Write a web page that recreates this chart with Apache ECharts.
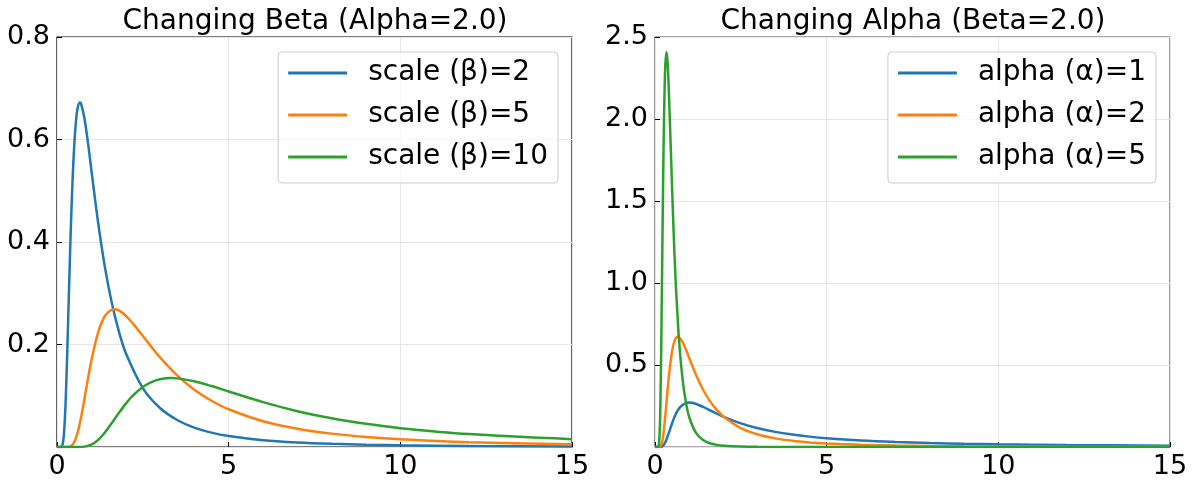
<!DOCTYPE html>
<html>
<head>
<meta charset="utf-8">
<script src="https://cdn.jsdelivr.net/npm/echarts@6/dist/echarts.min.js"></script>
<style>
  html, body { margin: 0; padding: 0; background: #fff; }
  #chart { width: 1195px; height: 482px; }
</style>
</head>
<body>
<div id="chart"></div>
<script>
// Inverse-gamma densities, sampled along x.
// Left panel: alpha = 2, scale beta = 2, 5, 10
var xBeta2 = [0, 0.1, 0.15, 0.2, 0.25, 0.3, 0.35, 0.4, 0.45, 0.5, 0.55, 0.6, 0.667, 0.7, 0.8, 0.9, 1.0, 1.2, 1.4, 1.6, 1.8, 2.0, 2.5, 3, 3.5, 4, 4.5, 5, 6, 7, 8, 9, 10, 12, 15];
var yBeta2 = [0, 0, 0.0019, 0.0227, 0.0859, 0.1886, 0.308, 0.421, 0.515, 0.586, 0.634, 0.661, 0.672, 0.670, 0.641, 0.595, 0.541, 0.437, 0.349, 0.280, 0.226, 0.184, 0.115, 0.0761, 0.0527, 0.0379, 0.0281, 0.0215, 0.0133, 0.0088, 0.0061, 0.0044, 0.0033, 0.0020, 0.0010];

var xBeta5 = [0, 0.3, 0.4, 0.5, 0.6, 0.7, 0.8, 0.9, 1.0, 1.2, 1.4, 1.6, 1.667, 1.8, 2.0, 2.25, 2.5, 2.75, 3, 3.5, 4, 4.5, 5, 6, 7, 8, 9, 10, 12, 15];
var yBeta5 = [0, 0, 0.0015, 0.0091, 0.0278, 0.0576, 0.0942, 0.1324, 0.1684, 0.2243, 0.2561, 0.2682, 0.2689, 0.2666, 0.2565, 0.2379, 0.2165, 0.1953, 0.1749, 0.1398, 0.1119, 0.0903, 0.0736, 0.0503, 0.0357, 0.0261, 0.0197, 0.0152, 0.0095, 0.0053];

var xBeta10 = [0, 0.6, 0.8, 1.0, 1.2, 1.4, 1.6, 1.8, 2.0, 2.2, 2.5, 2.75, 3, 3.333, 3.5, 4, 4.5, 5, 6, 7, 8, 9, 10, 12, 15];
var yBeta10 = [0, 0, 0.0007, 0.0045, 0.0139, 0.0288, 0.0471, 0.0662, 0.0842, 0.0997, 0.1172, 0.1267, 0.1321, 0.1344, 0.1339, 0.1283, 0.1189, 0.1083, 0.0875, 0.0699, 0.0560, 0.0452, 0.0368, 0.0252, 0.0152];

// Right panel: beta = 2, alpha = 1, 2, 5 (alpha = 2 is the same curve as beta = 2 above)
var xAlpha1 = [0, 0.1, 0.2, 0.3, 0.4, 0.5, 0.6, 0.7, 0.8, 0.9, 1.0, 1.2, 1.4, 1.6, 1.8, 2.0, 2.5, 3, 3.5, 4, 4.5, 5, 6, 7, 8, 9, 10, 12, 15];
var yAlpha1 = [0, 0, 0.0023, 0.0283, 0.0842, 0.1465, 0.1982, 0.2344, 0.2565, 0.2677, 0.2707, 0.2623, 0.2446, 0.2238, 0.2032, 0.1839, 0.1438, 0.1141, 0.0922, 0.0758, 0.0633, 0.0536, 0.0398, 0.0307, 0.0243, 0.0198, 0.0164, 0.0118, 0.0078];

var xAlpha2 = xBeta2;
var yAlpha2 = yBeta2;

var xAlpha5 = [0, 0.08, 0.1, 0.12, 0.14, 0.16, 0.18, 0.2, 0.22, 0.24, 0.26, 0.28, 0.3, 0.333, 0.36, 0.38, 0.4, 0.45, 0.5, 0.55, 0.6, 0.7, 0.8, 0.9, 1.0, 1.2, 1.4, 1.6, 1.8, 2.0, 2.5, 3, 4, 5, 7, 10, 15];
var yAlpha5 = [0, 0.0001, 0.0028, 0.0258, 0.1103, 0.296, 0.586, 0.946, 1.325, 1.677, 1.968, 2.185, 2.328, 2.409, 2.364, 2.293, 2.193, 1.884, 1.563, 1.270, 1.019, 0.651, 0.418, 0.272, 0.180, 0.0843, 0.0424, 0.0228, 0.0129, 0.0077, 0.0025, 0.0009, 0.0002, 0.0001, 0, 0, 0];

var leftNames = ['scale (β)=2', 'scale (β)=5', 'scale (β)=10'];
var rightNames = ['alpha (α)=1', 'alpha (α)=2', 'alpha (α)=5'];
var titles = ['Changing Beta (Alpha=2.0)', 'Changing Alpha (Beta=2.0)'];

var colors = ['#1f77b4', '#ff7f0e', '#2ca02c'];
var FONT = 'DejaVu Sans';

function pairs(xs, ys) {
  return xs.map(function (x, i) { return [x, ys[i]]; });
}

function line(name, xs, ys, idx, color) {
  return {
    name: name,
    type: 'line',
    xAxisIndex: idx,
    yAxisIndex: idx,
    data: pairs(xs, ys),
    showSymbol: false,
    smooth: 0.3,
    lineStyle: { width: 2.5, color: color },
    itemStyle: { color: color },
    animation: false
  };
}

function xAxis(idx) {
  return {
    type: 'value', gridIndex: idx, min: 0, max: 15, interval: 5,
    axisLine: { show: false },
    axisTick: { show: true, inside: true, length: 5, lineStyle: { color: '#000' } },
    axisLabel: { fontSize: 27, color: '#000', fontFamily: FONT, margin: 6 },
    splitLine: { show: true, lineStyle: { color: '#e6e6e6', width: 1 } }
  };
}

function yAxis(idx, max, interval) {
  return {
    type: 'value', gridIndex: idx, min: 0, max: max, interval: interval,
    axisLine: { show: false },
    axisTick: { show: true, inside: true, length: 5, lineStyle: { color: '#000' } },
    axisLabel: {
      fontSize: 27, color: '#000', fontFamily: FONT, margin: 7,
      formatter: function (v) { return v === 0 ? '' : v.toFixed(1); }
    },
    splitLine: { show: true, lineStyle: { color: '#e6e6e6', width: 1 } }
  };
}

function legend(names, right) {
  return {
    data: names,
    orient: 'vertical',
    right: right,
    top: 52,
    icon: 'rect',
    itemWidth: 59,
    itemHeight: 3,
    itemGap: 12,
    padding: [6, 10, 11, 10],
    backgroundColor: 'rgba(255,255,255,0.8)',
    borderColor: '#cccccc',
    borderWidth: 1,
    borderRadius: 4,
    textStyle: { fontSize: 28, color: '#000', fontFamily: FONT, lineHeight: 30, padding: [0, 0, 0, 16] }
  };
}

var chart = echarts.init(document.getElementById('chart'), null, { renderer: 'canvas' });
chart.setOption({
  animation: false,
  backgroundColor: '#fff',
  title: [
    { text: titles[0], left: 310, top: 3, textAlign: 'center',
      textStyle: { fontSize: 28, fontWeight: 'normal', color: '#000', fontFamily: FONT } },
    { text: titles[1], left: 908, top: 3, textAlign: 'center',
      textStyle: { fontSize: 28, fontWeight: 'normal', color: '#000', fontFamily: FONT } }
  ],
  grid: [
    { left: 57, top: 37, width: 515, height: 410, show: true, borderColor: '#000', borderWidth: 1.2 },
    { left: 655, top: 37, width: 515, height: 410, show: true, borderColor: '#555', borderWidth: 1.2 }
  ],
  xAxis: [xAxis(0), xAxis(1)],
  yAxis: [yAxis(0, 0.8, 0.2), yAxis(1, 2.5, 0.5)],
  legend: [legend(leftNames, 1195 - 558), legend(rightNames, 1195 - 1156)],
  series: [
    line(leftNames[0], xBeta2, yBeta2, 0, colors[0]),
    line(leftNames[1], xBeta5, yBeta5, 0, colors[1]),
    line(leftNames[2], xBeta10, yBeta10, 0, colors[2]),
    line(rightNames[0], xAlpha1, yAlpha1, 1, colors[0]),
    line(rightNames[1], xAlpha2, yAlpha2, 1, colors[1]),
    line(rightNames[2], xAlpha5, yAlpha5, 1, colors[2])
  ]
});
</script>
</body>
</html>
